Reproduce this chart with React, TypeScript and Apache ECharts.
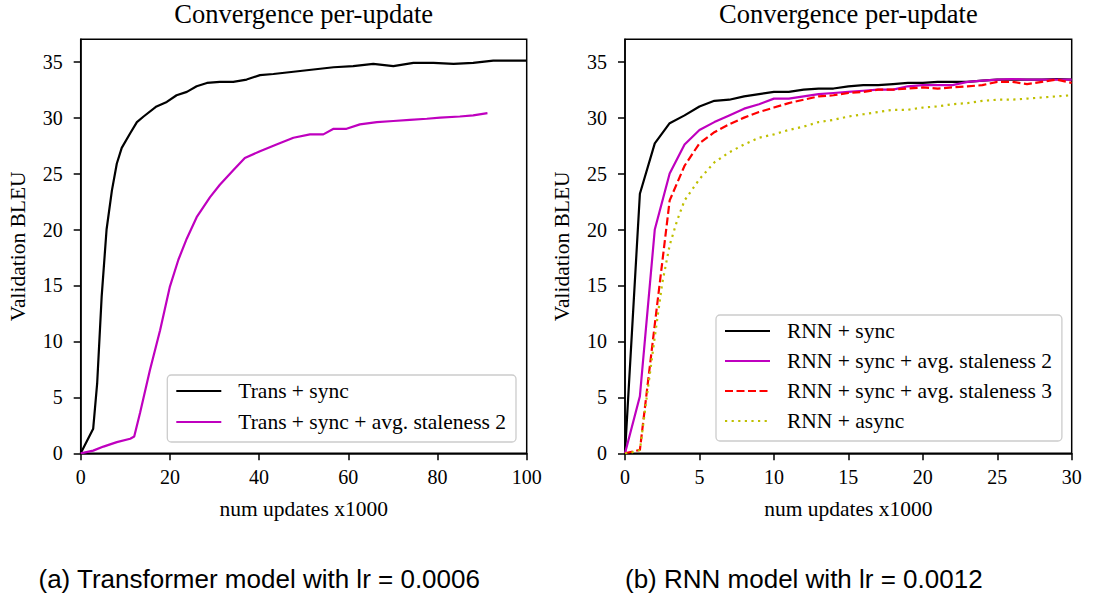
import React, { useEffect, useRef } from "react";
import * as echarts from "echarts";

const SERIF = '"Liberation Serif", "Times New Roman", serif';
const SANS = '"Liberation Sans", Arial, sans-serif';

const yTickValues = [0, 5, 10, 15, 20, 25, 30, 35];
const titleText = "Convergence per-update";
const yAxisTitle = "Validation BLEU";
const xAxisTitle = "num updates x1000";
const captionA = "(a) Transformer model with lr = 0.0006";
const captionB = "(b) RNN model with lr = 0.0012";

// ---- Left panel: Transformer ----
const transSyncX = [0, 2.8, 3.7, 4.7, 5.8, 7.0, 8.1, 9.2, 11.1, 12.6, 14.1, 17.0, 19.3, 21.5, 23.8, 26.0, 28.3, 31.2, 34.2, 37.2, 40.2, 43.2, 47.7, 52.2, 56.7, 61.1, 65.6, 70.1, 74.6, 79.1, 83.6, 88.0, 92.5, 100];
const transSyncY = [0, 2.2, 6.3, 14.0, 20.0, 23.5, 25.9, 27.3, 28.6, 29.6, 30.1, 31.0, 31.4, 32.0, 32.3, 32.8, 33.1, 33.2, 33.2, 33.4, 33.8, 33.9, 34.1, 34.3, 34.5, 34.6, 34.8, 34.6, 34.9, 34.9, 34.8, 34.9, 35.1, 35.1];

const transStale2X = [0, 2.8, 5.1, 8.1, 11.1, 12.0, 13.3, 15.5, 17.8, 20.0, 21.9, 23.8, 26.0, 29.0, 31.2, 34.2, 36.8, 40.2, 43.9, 47.7, 51.4, 54.4, 56.7, 59.6, 62.6, 66.4, 70.1, 73.8, 77.6, 80.6, 85.0, 88.0, 91.2];
const transStale2Y = [0, 0.24, 0.6, 1.0, 1.3, 1.5, 3.6, 7.4, 11.0, 14.9, 17.3, 19.2, 21.1, 22.9, 24.0, 25.3, 26.4, 27.0, 27.6, 28.2, 28.5, 28.5, 29.0, 29.0, 29.4, 29.6, 29.7, 29.8, 29.9, 30.0, 30.1, 30.2, 30.4];

// ---- Right panel: RNN ----
const rnnX = [0, 1, 2, 3, 4, 5, 6, 7, 8, 9, 10, 11, 12, 13, 14, 15, 16, 17, 18, 19, 20, 21, 22, 23, 24, 25, 26, 27, 28, 29, 30];
const rnnSyncY = [0, 23.2, 27.7, 29.5, 30.2, 31.0, 31.5, 31.6, 31.9, 32.1, 32.3, 32.3, 32.5, 32.6, 32.6, 32.8, 32.9, 32.9, 33.0, 33.1, 33.1, 33.2, 33.2, 33.2, 33.3, 33.4, 33.4, 33.4, 33.4, 33.45, 33.4];
const rnnStale2Y = [0, 5.1, 20.0, 25.0, 27.6, 28.9, 29.6, 30.2, 30.8, 31.2, 31.7, 31.7, 31.9, 32.1, 32.2, 32.3, 32.4, 32.5, 32.5, 32.8, 32.9, 32.9, 32.9, 33.2, 33.3, 33.4, 33.45, 33.4, 33.4, 33.4, 33.4];
const rnnStale3Y = [0, 0.3, 11.5, 22.6, 25.7, 27.7, 28.7, 29.4, 30.0, 30.5, 30.9, 31.3, 31.6, 31.9, 32.0, 32.2, 32.3, 32.5, 32.5, 32.6, 32.7, 32.6, 32.7, 32.8, 32.9, 33.2, 33.2, 33.0, 33.2, 33.4, 33.1];
const rnnAsyncX = [0, 0.5, 1, 1.5, 2, 2.5, 3, 3.5, 4, 5, 6, 7, 8, 9, 10, 11, 12, 13, 14, 15, 16, 17, 18, 19, 20, 21, 22, 23, 24, 25, 26, 27, 28, 29, 30];
const rnnAsyncY = [0, 0.1, 0.3, 5.4, 10.4, 15.2, 18.6, 20.8, 22.6, 24.5, 26.0, 26.9, 27.6, 28.2, 28.5, 28.9, 29.2, 29.6, 29.8, 30.1, 30.3, 30.5, 30.7, 30.7, 30.9, 31.0, 31.2, 31.3, 31.5, 31.6, 31.6, 31.7, 31.8, 31.9, 32.0];

const zip = (xs: number[], ys: number[]) => xs.map((x, i) => [x, ys[i]]);

const LEFT = { l: 80.7, r: 526.7 };
const RIGHT = { l: 625, r: 1071.7 };
const TOP = 39.3;
const BOTTOM = 453.3;
const W = 1093;
const H = 600;

function xAxisCfg(gridIndex: number, max: number, interval: number) {
  return {
    type: "value",
    gridIndex,
    min: 0,
    max,
    interval,
    name: xAxisTitle,
    nameLocation: "middle",
    nameGap: 45,
    nameTextStyle: { fontFamily: SERIF, fontSize: 21.5, color: "#000" },
    axisLine: { show: true, onZero: false, lineStyle: { color: "#000", width: 1.5 } },
    axisTick: { show: true, inside: false, length: 7, lineStyle: { color: "#000", width: 1.5 } },
    axisLabel: { color: "#000", fontFamily: SERIF, fontSize: 20, margin: 14 },
    splitLine: { show: false },
  };
}

function yAxisCfg(gridIndex: number) {
  return {
    type: "value",
    gridIndex,
    min: 0,
    max: 37,
    name: yAxisTitle,
    nameLocation: "middle",
    nameGap: 52,
    nameTextStyle: { fontFamily: SERIF, fontSize: 21.5, color: "#000" },
    axisLine: { show: true, onZero: false, lineStyle: { color: "#000", width: 1.5 } },
    axisTick: {
      show: true,
      inside: false,
      length: 7,
      customValues: yTickValues,
      lineStyle: { color: "#000", width: 1.5 },
    },
    axisLabel: {
      color: "#000",
      fontFamily: SERIF,
      fontSize: 20,
      margin: 18,
      customValues: yTickValues,
    },
    splitLine: { show: false },
  };
}

function lineSeries(name: string, xi: number, data: number[][], color: string, type: any) {
  return {
    name,
    type: "line",
    xAxisIndex: xi,
    yAxisIndex: xi,
    data,
    symbol: "none",
    showSymbol: false,
    smooth: false,
    lineStyle: { color, width: 2.2, type, cap: "butt" },
    itemStyle: { color },
    z: 3,
  };
}

function legendCfg(left: number, top: number, names: string[], gap: number) {
  return {
    show: true,
    orient: "vertical",
    left,
    top,
    data: names,
    itemWidth: 45,
    itemHeight: 14,
    itemGap: gap,
    padding: [5, 10, 9, 8],
    backgroundColor: "rgba(255,255,255,0.85)",
    borderColor: "#cccccc",
    borderWidth: 1.3,
    borderRadius: 4,
    selectedMode: false,
    itemStyle: { opacity: 0 },
    textStyle: {
      fontFamily: SERIF,
      fontSize: 21.5,
      color: "#000",
      lineHeight: 22,
      padding: [0, 0, 0, 12],
    },
  };
}

function textEl(text: string, x: number, y: number, font: string, align: string) {
  return {
    type: "text",
    x,
    y,
    style: {
      text,
      font,
      fill: "#000",
      textAlign: align,
      textVerticalAlign: "middle",
      align,
      verticalAlign: "middle",
    },
  };
}

export default function App() {
  const ref = useRef<HTMLDivElement>(null);
  useEffect(() => {
    const chart = echarts.init(ref.current as HTMLDivElement, null, { renderer: "svg" });
    const option: any = {
      animation: false,
      backgroundColor: "#fff",
      textStyle: { fontFamily: SERIF },
      grid: [
        {
          left: LEFT.l,
          right: W - LEFT.r,
          top: TOP,
          bottom: H - BOTTOM,
          show: true,
          borderColor: "#000",
          borderWidth: 1.5,
          backgroundColor: "transparent",
        },
        {
          left: RIGHT.l,
          right: W - RIGHT.r,
          top: TOP,
          bottom: H - BOTTOM,
          show: true,
          borderColor: "#000",
          borderWidth: 1.5,
          backgroundColor: "transparent",
        },
      ],
      xAxis: [xAxisCfg(0, 100, 20), xAxisCfg(1, 30, 5)],
      yAxis: [yAxisCfg(0), yAxisCfg(1)],
      legend: [
        legendCfg(167.3, 375, ["Trans + sync", "Trans + sync + avg. staleness 2"], 9),
        legendCfg(716, 315, [
          "RNN + sync",
          "RNN + sync + avg. staleness 2",
          "RNN + sync + avg. staleness 3",
          "RNN + async",
        ], 8),
      ],
      series: [
        lineSeries("Trans + sync", 0, zip(transSyncX, transSyncY), "#000000", "solid"),
        lineSeries("Trans + sync + avg. staleness 2", 0, zip(transStale2X, transStale2Y), "#bf00bf", "solid"),
        lineSeries("RNN + sync", 1, zip(rnnX, rnnSyncY), "#000000", "solid"),
        lineSeries("RNN + sync + avg. staleness 2", 1, zip(rnnX, rnnStale2Y), "#bf00bf", "solid"),
        lineSeries("RNN + sync + avg. staleness 3", 1, zip(rnnX, rnnStale3Y), "#ff0000", [8, 3.5]),
        lineSeries("RNN + async", 1, zip(rnnAsyncX, rnnAsyncY), "#bfbf00", [2.2, 4.4]),
      ],
      graphic: [
        textEl(titleText, (LEFT.l + LEFT.r) / 2, 14, `26.5px ${SERIF}`, "center"),
        textEl(titleText, (RIGHT.l + RIGHT.r) / 2, 14, `26.5px ${SERIF}`, "center"),
        textEl(captionA, 38.5, 579, `26px ${SANS}`, "left"),
        textEl(captionB, 625, 579, `26px ${SANS}`, "left"),
      ],
    };
    chart.setOption(option);
    return () => chart.dispose();
  }, []);
  return (
    <div
      ref={ref}
      style={{ position: "absolute", left: 0, top: 0, width: W, height: H }}
    />
  );
}
